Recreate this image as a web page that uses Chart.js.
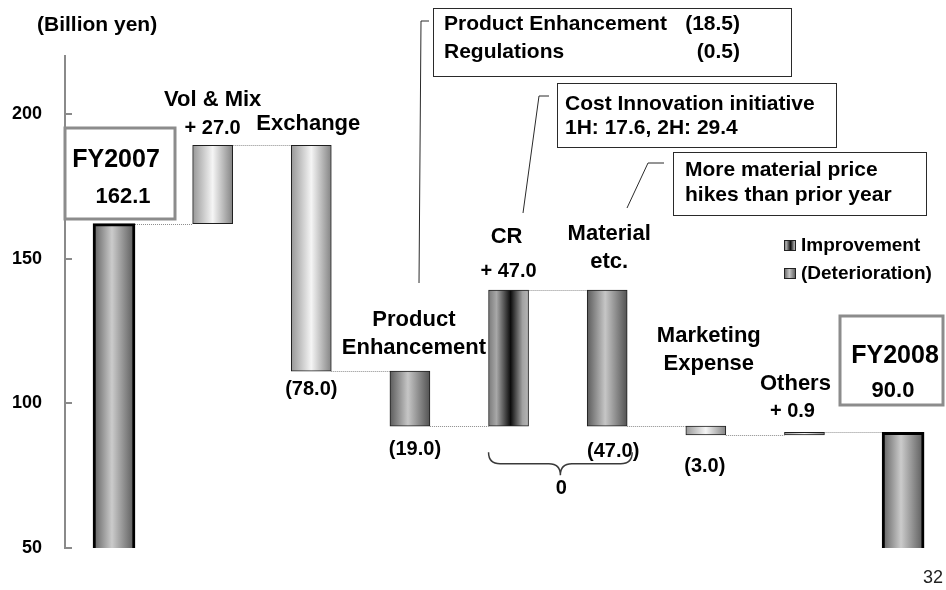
<!DOCTYPE html>
<html>
<head>
<meta charset="utf-8">
<title>Operating income change FY2007 - FY2008</title>
<script src="https://cdn.jsdelivr.net/npm/chart.js@4.4.1/dist/chart.umd.min.js"></script>
<style>
  html, body { margin: 0; padding: 0; background: #ffffff; }
  #wrap { position: relative; width: 946px; height: 590px; }
</style>
</head>
<body>
<div id="wrap"><canvas id="chart"></canvas></div>
<script>
// Waterfall FY2007 -> FY2008, billion yen

const startName = 'FY2007'
const startValue = 162.1
const endName = 'FY2008'
const endValue = 90.0
const stepNames = [['Vol & Mix'], ['Exchange'], ['Product', 'Enhancement'], ['CR'], ['Material', 'etc.'], ['Marketing', 'Expense'], ['Others']]
const stepValues = [27.0, -78.0, -19.0, 47.0, -47.0, -3.0, 0.9]
const yTicks = [50, 100, 150, 200]
const unitLabel = '(Billion yen)'
const legendNames = ['Improvement', '(Deterioration)']
const braceLabel = '0'
const pageNumber = '32'

const noteTexts = [
  [['Product Enhancement', '(18.5)'], ['Regulations', '(0.5)']],
  [['Cost Innovation initiative'], ['1H: 17.6, 2H: 29.4']],
  [['More material price'], ['hikes than prior year']]
]

// ---- styles / layout ----
const FONT = '"Liberation Sans", Arial, Helvetica, sans-serif'
const TOTAL_W = 42
const STEP_W = 40
const shades = ['total', 'light', 'light', 'mid', 'dark', 'mid', 'light', 'light', 'total']
const shadeStops = {
  total: [[0, '#5e5e5e'], [0.45, '#cbcbcb'], [1, '#585858']],
  light: [[0, '#989898'], [0.5, '#f5f5f5'], [1, '#848484']],
  mid: [[0, '#5c5c5c'], [0.45, '#c6c6c6'], [1, '#525252']],
  dark: [[0, '#7a7a7a'], [0.2, '#a8a8a8'], [0.55, '#0c0c0c'], [0.85, '#a2a2a2'], [1, '#b6b6b6']]
}

// where the step captions sit relative to their bar (px)
const labelPlacement = [
  { dx: 0, nameGap: 39, valueGap: 11 },
  { dx: -3, nameGap: 15, valueGap: 24, below: true },
  { dx: 4, nameGap: 17, valueGap: 29, below: true, valueDx: 5 },
  { dx: -2, nameGap: 47, valueGap: 13 },
  { dx: 2, nameGap: 22, valueGap: 31, below: true, valueDx: 6 },
  { dx: 3, nameGap: 56, valueGap: 37, below: true, valueDx: -1 },
  { dx: -9, nameGap: 42, valueGap: 15, valueDx: -12 }
]

const totalBoxes = [
  { rect: [65, 128, 110, 91], title: [116, 167], value: [123, 203] },
  { rect: [840, 316, 103, 89], title: [895, 363], value: [893, 397] }
]

const noteLayout = [
  { rect: [433.5, 8.5, 358, 68], textX: 444, numX: 740, baselines: [30, 58], leader: [[419, 283], [421, 21], [429, 21]] },
  { rect: [557.5, 83.5, 279, 64], textX: 565, baselines: [110, 134], leader: [[523, 213], [539, 96], [549, 96]] },
  { rect: [673.5, 152.5, 253, 63], textX: 685, baselines: [176, 201], leader: [[627, 208], [648, 163], [664, 163]] }
]

// ---- data prep ----
const levels = [startValue]
stepValues.forEach(v => levels.push(Math.round((levels[levels.length - 1] + v) * 10) / 10))

const lastIndex = stepValues.length + 1
const totalBars = [{ x: 0, y: startValue }, { x: lastIndex, y: endValue }]
const stepBars = stepValues.map((v, i) => ({ x: i + 1, y: [levels[i], levels[i + 1]] }))
const upBars = stepBars.filter((b, i) => stepValues[i] > 0)
const downBars = stepBars.filter((b, i) => stepValues[i] < 0)

function fmtStep(v) {
  return v > 0 ? '+ ' + v.toFixed(1) : '(' + Math.abs(v).toFixed(1) + ')'
}

function barWidth(i) {
  return i === 0 || i === lastIndex ? TOTAL_W : STEP_W
}

function shadeGradient(ctx, left, width, shade) {
  const g = ctx.createLinearGradient(left, 0, left + width, 0)
  shadeStops[shade].forEach(([p, c]) => g.addColorStop(p, c))
  return g
}

function barFill(context) {
  const chart = context.chart
  if (!chart.chartArea || !context.raw) return '#aaaaaa'
  const i = context.raw.x
  const w = barWidth(i)
  const cx = chart.scales.x.getPixelForValue(i)
  return shadeGradient(chart.ctx, cx - w / 2, w, shades[i])
}

function text(ctx, str, x, y, size, align = 'center', weight = 'bold', color = '#000') {
  ctx.font = `${weight} ${size}px ${FONT}`
  ctx.fillStyle = color
  ctx.textAlign = align
  ctx.textBaseline = 'alphabetic'
  ctx.fillText(str, x, y)
}

const decorPlugin = {
  id: 'waterfallDecor',

  beforeDatasetsDraw(chart) {
    const { ctx, scales: { x, y } } = chart
    ctx.save()
    // dotted connectors between bars
    ctx.strokeStyle = '#8c8c8c'
    ctx.lineWidth = 1
    ctx.setLineDash([1, 1])
    for (let i = 0; i < levels.length; i++) {
      const x0 = x.getPixelForValue(i) + barWidth(i) / 2
      const x1 = x.getPixelForValue(i + 1) - barWidth(i + 1) / 2
      const py = Math.round(y.getPixelForValue(levels[i])) + 0.5
      ctx.beginPath()
      ctx.moveTo(x0, py)
      ctx.lineTo(x1, py)
      ctx.stroke()
    }
    ctx.setLineDash([])
    // inward tick marks on the value axis
    ctx.strokeStyle = '#8a8a8a'
    ctx.lineWidth = 2
    y.ticks.forEach(t => {
      const py = Math.round(y.getPixelForValue(t.value))
      ctx.beginPath()
      ctx.moveTo(y.right, py)
      ctx.lineTo(y.right + 7, py)
      ctx.stroke()
    })
    ctx.restore()
  },

  afterDraw(chart) {
    const { ctx, scales: { x, y } } = chart
    ctx.save()

    text(ctx, unitLabel, 37, 31, 21, 'left')

    // step captions
    stepNames.forEach((lines, k) => {
      const p = labelPlacement[k]
      const cx = x.getPixelForValue(k + 1)
      const top = y.getPixelForValue(Math.max(levels[k], levels[k + 1]))
      const bottom = y.getPixelForValue(Math.min(levels[k], levels[k + 1]))
      lines.forEach((line, j) => {
        text(ctx, line, cx + p.dx, top - p.nameGap - (lines.length - 1 - j) * 28, 22)
      })
      const vy = p.below ? bottom + p.valueGap : top - p.valueGap
      text(ctx, fmtStep(stepValues[k]), cx + (p.valueDx || 0), vy, 20)
    })

    // FY boxes
    const totals = [[startName, startValue], [endName, endValue]]
    totalBoxes.forEach((b, i) => {
      ctx.fillStyle = '#ffffff'
      ctx.fillRect(...b.rect)
      ctx.strokeStyle = '#8c8c8c'
      ctx.lineWidth = 3
      ctx.strokeRect(...b.rect)
      text(ctx, totals[i][0], b.title[0], b.title[1], 25)
      text(ctx, totals[i][1].toFixed(1), b.value[0], b.value[1], 22)
    })

    // note boxes with leader lines
    noteLayout.forEach((n, i) => {
      ctx.strokeStyle = '#2a2a2a'
      ctx.lineWidth = 1
      ctx.beginPath()
      n.leader.forEach(([px, py], j) => j ? ctx.lineTo(px, py) : ctx.moveTo(px, py))
      ctx.stroke()
      ctx.fillStyle = '#ffffff'
      ctx.fillRect(...n.rect)
      ctx.strokeRect(...n.rect)
      noteTexts[i].forEach((row, j) => {
        text(ctx, row[0], n.textX, n.baselines[j], 21, 'left')
        if (row[1]) text(ctx, row[1], n.numX, n.baselines[j], 21, 'right')
      })
    })

    // brace under CR + Material
    const L = x.getPixelForValue(4) - 20
    const R = x.getPixelForValue(5) + 25
    const M = (L + R) / 2
    const T = y.getPixelForValue(levels[3]) + 26
    const r = 11.5
    ctx.strokeStyle = '#3a3a3a'
    ctx.lineWidth = 1.5
    ctx.beginPath()
    ctx.moveTo(L, T)
    ctx.quadraticCurveTo(L, T + r, L + r, T + r)
    ctx.lineTo(M - r, T + r)
    ctx.quadraticCurveTo(M, T + r, M, T + 2 * r)
    ctx.quadraticCurveTo(M, T + r, M + r, T + r)
    ctx.lineTo(R - r, T + r)
    ctx.quadraticCurveTo(R, T + r, R, T)
    ctx.stroke()
    text(ctx, braceLabel, M + 1, T + 2 * r + 19, 20)

    // legend
    const markShades = ['dark', 'mid']
    legendNames.forEach((name, i) => {
      const ly = 240 + i * 28
      ctx.fillStyle = shadeGradient(ctx, 784, 12, markShades[i])
      ctx.fillRect(784, ly, 12, 11)
      ctx.strokeStyle = '#222222'
      ctx.lineWidth = 1
      ctx.strokeRect(784.5, ly + 0.5, 11, 10)
      text(ctx, name, 801, ly + 11, 19, 'left')
    })

    text(ctx, pageNumber, 943, 583, 18, 'right', 'normal', '#222222')
    ctx.restore()
  }
}

const barCommon = { grouped: false, borderSkipped: false, backgroundColor: barFill }

new Chart(document.getElementById('chart'), {
  type: 'bar',
  data: {
    datasets: [
      { ...barCommon, label: 'Total', data: totalBars, barThickness: TOTAL_W, borderWidth: 3, borderColor: '#000000' },
      { ...barCommon, label: legendNames[0], data: upBars, barThickness: STEP_W, borderWidth: 1, borderColor: '#1e1e1e' },
      { ...barCommon, label: legendNames[1], data: downBars, barThickness: STEP_W, borderWidth: 1, borderColor: '#1e1e1e' }
    ]
  },
  options: {
    responsive: true,
    maintainAspectRatio: false,
    animation: false,
    layout: { padding: { top: 56, bottom: 42, left: 0, right: 0 } },
    plugins: {
      legend: { display: false },
      tooltip: { enabled: false }
    },
    scales: {
      x: {
        type: 'linear',
        display: false,
        offset: false,
        min: -0.497,
        max: 8.435
      },
      y: {
        min: 50,
        max: 220,
        beginAtZero: false,
        afterBuildTicks: scale => { scale.ticks = yTicks.map(v => ({ value: v })) },
        afterFit: scale => { scale.width = 65 },
        grid: { display: false, drawTicks: false },
        border: { display: true, color: '#8a8a8a', width: 2 },
        ticks: {
          padding: 23,
          color: '#000000',
          font: { family: FONT, size: 18, weight: 'bold' }
        }
      }
    }
  },
  plugins: [decorPlugin]
})
</script>
</body>
</html>
